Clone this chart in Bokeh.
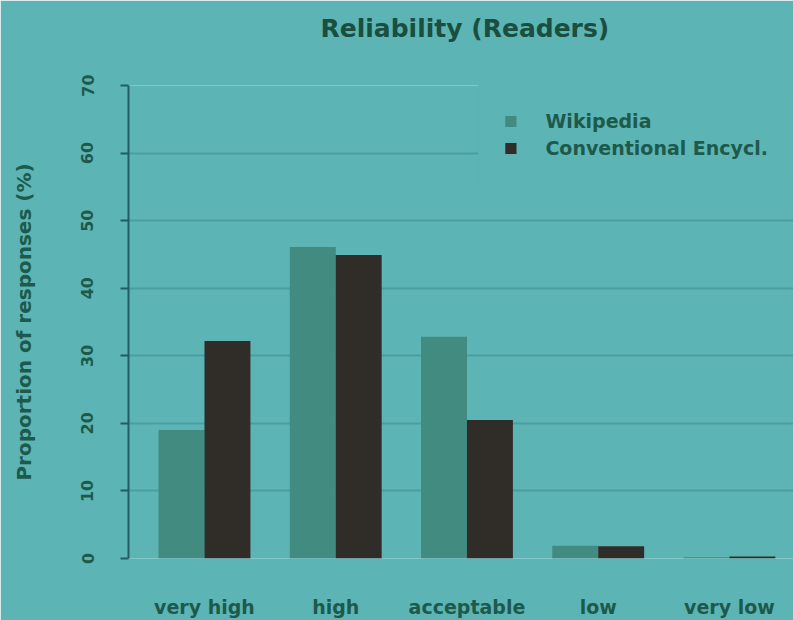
from bokeh.plotting import figure
from bokeh.models import ColumnDataSource, FixedTicker, Range1d, Legend, LegendItem, Title
from bokeh.transform import dodge
from bokeh.embed import file_html
from bokeh.resources import INLINE

categories = ["very high", "high", "acceptable", "low", "very low"]
wikipedia = [19.0, 46.1, 32.8, 1.9, 0.2]
conventional = [32.2, 44.9, 20.5, 1.8, 0.3]
y_ticks = [0, 10, 20, 30, 40, 50, 60, 70]
title_text = "Reliability (Readers)"

BG = "#5cb4b5"
TXT = "#1d5a4b"
FONT = "DejaVu Sans"

src = ColumnDataSource(dict(x=list(range(len(categories))), w=wikipedia, c=conventional))

p = figure(width=793, height=620, output_backend="svg", toolbar_location=None,
           x_range=Range1d(-0.579, 4.488), y_range=Range1d(0, 70),
           min_border_left=128, min_border_right=0, min_border_top=85, min_border_bottom=60)

p.background_fill_color = BG
p.border_fill_color = BG
p.outline_line_color = None
p.title.text = ""

# spacer title nearest the frame (drawn in background colour), real title above it
spacer = Title(text=".", text_color=BG, text_font=FONT, text_font_size="10px", standoff=33)
p.add_layout(spacer, "above")
real_title = Title(text=title_text, align="left", offset=192, standoff=0, vertical_align="bottom",
                   text_font=FONT, text_font_style="bold", text_font_size="25px",
                   text_color="#1a4e3f")
p.add_layout(real_title, "above")

rw = p.vbar(x=dodge("x", -0.175, range=p.x_range), top="w", width=0.35, source=src,
            fill_color="#428b80", line_color=None)
rc = p.vbar(x=dodge("x", 0.175, range=p.x_range), top="c", width=0.35, source=src,
            fill_color="#302c27", line_color=None)

p.xgrid.grid_line_color = None
p.ygrid.grid_line_color = "#4a9ea2"
p.ygrid.grid_line_width = 2
p.ygrid.ticker = FixedTicker(ticks=y_ticks)

xa = p.xaxis[0]
xa.ticker = FixedTicker(ticks=list(range(len(categories))))
xa.major_label_overrides = {i: c for i, c in enumerate(categories)}
xa.axis_line_color = None
xa.major_tick_line_color = None
xa.minor_tick_line_color = None
xa.major_label_standoff = 31
xa.major_label_text_font = FONT
xa.major_label_text_font_style = "bold"
xa.major_label_text_font_size = "19px"
xa.major_label_text_color = TXT

ya = p.yaxis[0]
ya.ticker = FixedTicker(ticks=y_ticks)
ya.axis_label = "Proportion of responses (%)"
ya.axis_label_text_font = FONT
ya.axis_label_text_font_style = "bold"
ya.axis_label_text_font_size = "20px"
ya.axis_label_text_color = TXT
ya.axis_label_standoff = 43
ya.axis_line_color = "#1f5f64"
ya.axis_line_width = 2
ya.major_tick_line_color = "#1f5f64"
ya.major_tick_line_width = 2
ya.major_tick_out = 8
ya.major_tick_in = 0
ya.minor_tick_line_color = None
ya.major_label_orientation = "vertical"
ya.major_label_standoff = 27
ya.major_label_text_font = FONT
ya.major_label_text_font_style = "bold"
ya.major_label_text_font_size = "16px"
ya.major_label_text_color = TXT

legend = Legend(items=[LegendItem(label="Wikipedia", renderers=[rw]),
                       LegendItem(label="Conventional Encycl.", renderers=[rc])],
                location="top_right", margin=0, padding=24, spacing=5,
                glyph_width=14, glyph_height=14, label_standoff=28,
                background_fill_color=BG, background_fill_alpha=1.0,
                border_line_color=BG, border_line_alpha=1.0,
                label_text_font=FONT, label_text_font_style="bold",
                label_text_font_size="19px", label_text_color=TXT)
p.add_layout(legend)

open("out.html", "w").write(file_html(p, INLINE))
